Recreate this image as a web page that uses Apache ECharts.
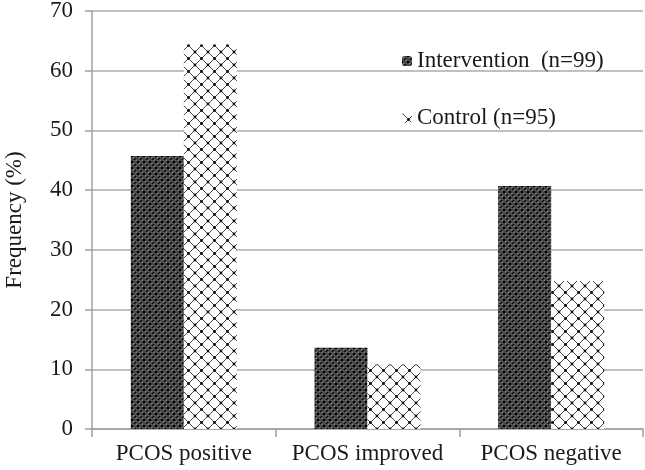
<!DOCTYPE html>
<html><head><meta charset="utf-8">
<script src="https://cdn.jsdelivr.net/npm/echarts@6/dist/echarts.min.js"></script>
<style>html,body{margin:0;padding:0;background:#fff}#c{width:645px;height:470px}</style>
</head><body><div id="c"></div>
<script>
const categories = ['PCOS positive', 'PCOS improved', 'PCOS negative'];
const interventionValues = [45.7, 13.6, 40.7];
const controlValues = [64.4, 10.8, 24.8];
const seriesNames = ['Intervention  (n=99)', 'Control (n=95)'];
const yAxisName = 'Frequency (%)';

function makeDark() {
  const c = document.createElement('canvas');
  c.width = 6; c.height = 6;
  const g = c.getContext('2d');
  g.fillStyle = '#8a8a8a'; g.fillRect(0, 0, 6, 6);
  g.fillStyle = '#000';
  [[0,0],[6,0],[0,6],[6,6],[3,3]].forEach(p => { g.beginPath(); g.arc(p[0], p[1], 1.8, 0, Math.PI*2); g.fill(); });
  g.fillStyle = '#111';
  g.fillRect(2.5, 0, 1, 1); g.fillRect(0, 2.5, 1, 1); g.fillRect(5, 2.5, 1, 1); g.fillRect(2.5, 5, 1, 1);
  g.fillStyle = '#e8e8e8';
  g.fillRect(1.5, 1.5, 1, 1); g.fillRect(3.5, 3.5, 1, 1);
  return c;
}
function makeLattice() {
  const s = 13;
  const c = document.createElement('canvas');
  c.width = s; c.height = s;
  const g = c.getContext('2d');
  g.fillStyle = '#fff'; g.fillRect(0, 0, s, s);
  g.strokeStyle = '#444'; g.lineWidth = 1;
  g.beginPath(); g.moveTo(0, 0); g.lineTo(s, s); g.moveTo(s, 0); g.lineTo(0, s); g.stroke();
  g.fillStyle = '#111';
  [[0,0],[s,0],[0,s],[s,s],[s/2,s/2]].forEach(p => { g.beginPath(); g.arc(p[0], p[1], 1.4, 0, Math.PI*2); g.fill(); });
  return c;
}
const darkFill = { image: makeDark(), repeat: 'repeat' };
const latticeFill = { image: makeLattice(), repeat: 'repeat' };

const font = 'Liberation Serif';
const fs = 23;
const textColor = '#1a1a1a';
const chart = echarts.init(document.getElementById('c'), null, { renderer: 'canvas' });
chart.setOption({
  animation: false,
  backgroundColor: '#fff',
  grid: { left: 92, right: 2, top: 11, bottom: 41, containLabel: false, outerBoundsMode: 'none' },
  legend: [
    { data: [seriesNames[0]], orient: 'vertical', left: 397, top: 44, itemWidth: 10, itemHeight: 10, itemGap: 4,
      textStyle: { fontFamily: font, fontSize: fs, color: textColor, lineHeight: 24 } },
    { data: [seriesNames[1]], orient: 'vertical', left: 397, top: 101, itemWidth: 10, itemHeight: 10, itemGap: 4,
      textStyle: { fontFamily: font, fontSize: fs, color: textColor, lineHeight: 24 } }
  ],
  xAxis: {
    type: 'category', data: categories,
    axisLine: { lineStyle: { color: '#a0a0a0', width: 1.5 } },
    axisTick: { show: true, length: 8, lineStyle: { color: '#a0a0a0', width: 1.5 } },
    axisLabel: { fontFamily: font, fontSize: fs, color: textColor, margin: 13, interval: 0 }
  },
  yAxis: {
    type: 'value', min: 0, max: 70, interval: 10,
    name: yAxisName, nameLocation: 'middle', nameGap: 66, nameRotate: 90,
    nameTextStyle: { fontFamily: font, fontSize: fs, color: textColor },
    axisLine: { show: true, lineStyle: { color: '#a0a0a0', width: 1.5 } },
    axisTick: { show: true, length: 7, lineStyle: { color: '#a0a0a0', width: 1.5 } },
    splitLine: { show: true, lineStyle: { color: '#ababab', width: 1.5 } },
    axisLabel: { fontFamily: font, fontSize: fs, color: textColor, margin: 19 }
  },
  series: [
    { name: seriesNames[0], type: 'bar', data: interventionValues, barWidth: 53, barGap: '0%',
      itemStyle: { color: darkFill } },
    { name: seriesNames[1], type: 'bar', data: controlValues, barWidth: 53, barGap: '0%',
      itemStyle: { color: latticeFill } }
  ]
});
</script></body></html>
